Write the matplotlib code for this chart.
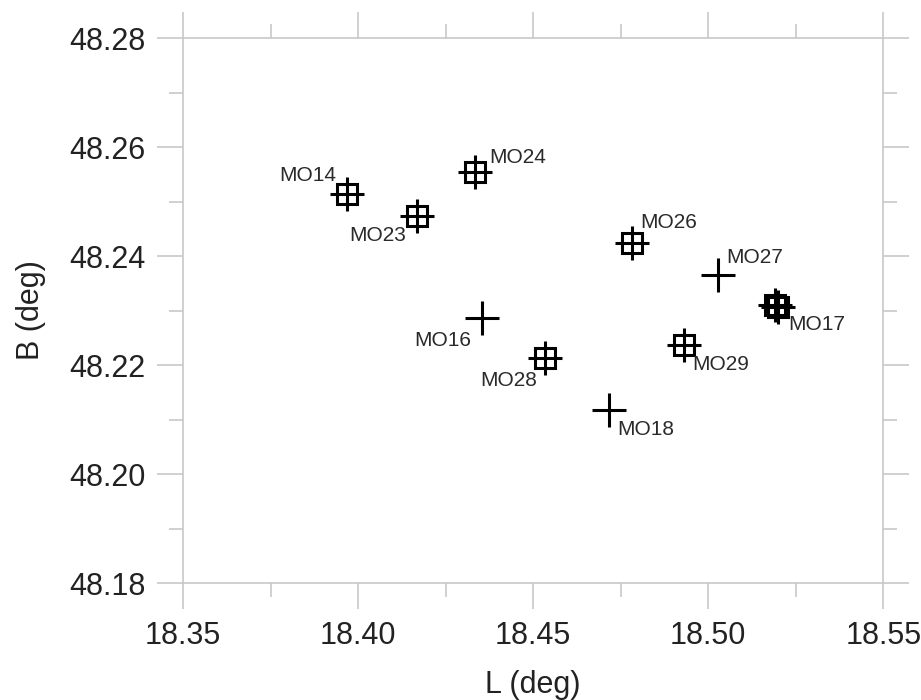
#! /usr/bin/env python3

import matplotlib

matplotlib.use("Agg")
import matplotlib.pyplot as plt
from matplotlib.ticker import MultipleLocator

# boxed sources (square + cross)
box_names = ["MO14", "MO23", "MO24", "MO28", "MO26", "MO17", "MO29"]
box_l = [18.3969, 18.4169, 18.4335, 18.4534, 18.4781, 18.5200, 18.4931]
box_b = [48.2514, 48.2473, 48.2555, 48.2213, 48.2424, 48.2307, 48.2237]

# second, nearly coincident box under MO17
extra_l = [18.5191]
extra_b = [48.2311]

# plain cross sources
cross_names = ["MO16", "MO18", "MO27"]
cross_l = [18.4355, 18.4717, 18.5029]
cross_b = [48.2286, 48.2117, 48.2365]

# label placement: (dx, dy) in points, horizontal alignment
label_pos = {
    "MO14": (-8, 13, "right"),
    "MO23": (-8, -14, "right"),
    "MO24": (10, 10, "left"),
    "MO16": (-8, -16, "right"),
    "MO28": (-6, -16, "right"),
    "MO18": (6, -14, "left"),
    "MO26": (6, 15, "left"),
    "MO27": (6, 13, "left"),
    "MO17": (7, -13, "left"),
    "MO29": (6, -14, "left"),
}

grey = "#c8c8c8"
txt = "#222222"

plt.rcParams["font.family"] = ["Liberation Sans", "DejaVu Sans"]

fig = plt.figure(figsize=(9.21, 7.0), dpi=100)
ax = fig.add_axes([0.1987, 0.1671, 0.959 - 0.1987, 0.9457 - 0.1671])

ax.plot(box_l + extra_l, box_b + extra_b, linestyle="none", marker="s",
        markersize=15, markerfacecolor="none", markeredgecolor="black",
        markeredgewidth=2.2)
ax.plot(box_l + extra_l, box_b + extra_b, linestyle="none", marker="+",
        markersize=25, markeredgecolor="black", markeredgewidth=2.2)
ax.plot(cross_l, cross_b, linestyle="none", marker="+",
        markersize=25, markeredgecolor="black", markeredgewidth=2.2)

for names, ls, bs in [(box_names, box_l, box_b), (cross_names, cross_l, cross_b)]:
    for name, l, b in zip(names, ls, bs):
        dx, dy, ha = label_pos[name]
        ax.annotate(name, xy=(l, b), xytext=(dx, dy), textcoords="offset points",
                    ha=ha, va="center", fontsize=15, color="#2a2a2a")

ax.set_xlim(18.35, 18.55)
ax.set_ylim(48.18, 48.28)
ax.xaxis.set_major_locator(MultipleLocator(0.05))
ax.xaxis.set_minor_locator(MultipleLocator(0.025))
ax.yaxis.set_major_locator(MultipleLocator(0.02))
ax.yaxis.set_minor_locator(MultipleLocator(0.01))
ax.xaxis.set_major_formatter(plt.FormatStrFormatter("%.2f"))
ax.yaxis.set_major_formatter(plt.FormatStrFormatter("%.2f"))

for s in ax.spines.values():
    s.set_color(grey)
    s.set_linewidth(1.2)

ax.tick_params(which="both", direction="out", color=grey, width=1.2,
               top=True, right=True, labelsize=22, labelcolor=txt)
ax.tick_params(which="major", length=19, pad=8)
ax.tick_params(which="minor", length=10)

ax.set_xlabel("L (deg)", fontsize=22, color=txt, labelpad=14)
ax.set_ylabel("B (deg)", fontsize=22, color=txt, labelpad=17)

plt.savefig("out.png", dpi=100)
